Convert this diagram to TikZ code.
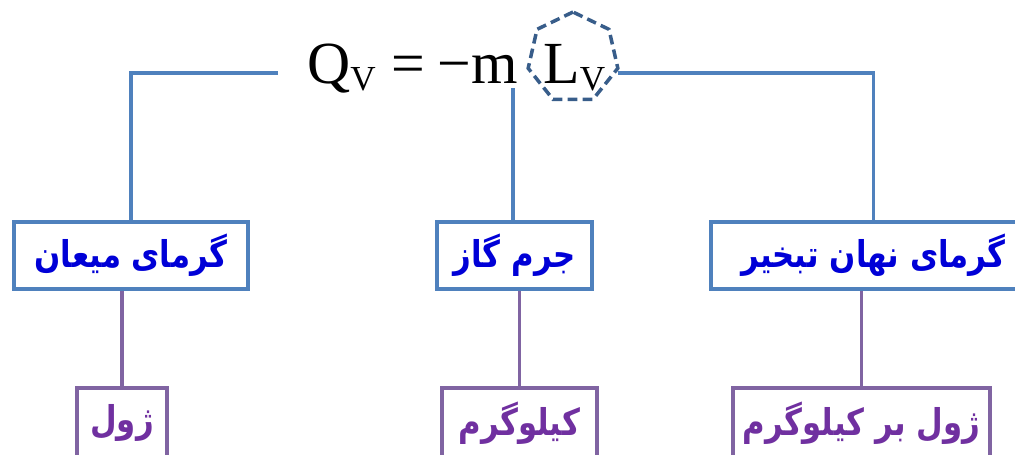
\documentclass[tikz,border=0pt]{standalone}
\usepackage{fontspec}
\usepackage{graphicx}
\setmainfont{Liberation Serif}
\newfontfamily\fafont[Script=Arabic]{DejaVu Sans}
\TeXXeTstate=1
\usetikzlibrary{shapes.geometric}
\definecolor{lineblue}{RGB}{79,129,189}
\definecolor{textblue}{RGB}{0,0,215}
\definecolor{linepurple}{RGB}{128,100,162}
\definecolor{textpurple}{RGB}{112,48,160}
\definecolor{ringblue}{RGB}{56,93,138}
\newcommand{\fa}[1]{\scalebox{1}[1.2]{\beginR #1\endR}}
\newcommand{\subv}{\raisebox{-4pt}{\fontsize{20}{20}\selectfont V}}

\begin{document}
\begin{tikzpicture}[x=0.02cm, y=-0.02cm,
    qbox/.style={rectangle, draw=lineblue, line width=2.2pt, fill=white,
                 minimum height=1.34cm, inner sep=0pt, text=textblue,
                 font=\fafont\bfseries\fontsize{17.5}{17.5}\selectfont},
    ubox/.style={rectangle, draw=linepurple, line width=2.2pt, fill=white,
                 minimum height=1.4cm, inner sep=0pt, text=textpurple,
                 font=\fafont\bfseries\fontsize{17.5}{17.5}\selectfont},
    link/.style={draw=lineblue, line width=2.2pt},
    ulink/.style={draw=linepurple, line width=2.2pt},
    dashring/.style={regular polygon, regular polygon sides=7, draw=ringblue,
                 line width=2pt, dash pattern=on 5.5pt off 3pt,
                 minimum size=1.84cm, inner sep=0pt, outer sep=0pt},
    eqtext/.style={inner sep=0pt, font=\fontsize{34}{34}\selectfont}
]
\useasboundingbox (0,0) rectangle (1015,454);

%% equation
\node[eqtext, anchor=base west] (eq) at (307,83) {Q\subv\hspace{9pt}=\hspace{7pt}−m};
\node[eqtext, anchor=base west] (Lv) at (543,83) {L\subv};
\node[dashring] (ring) at (573,58) {};
\coordinate (lstub) at (278,73);
\coordinate (mstub) at (513,88);

%% quantities
\node[qbox, minimum width=4.68cm] (heat)   at (131,255.5) {\fa{گرمای میعان}};
\node[qbox, minimum width=3.1cm]  (mass)   at (514.5,255.5) {\fa{جرم گاز}};
\node[qbox, minimum width=6.5cm]  (latent) at (873.5,255.5) {\fa{گرمای نهان تبخیر}};

%% units
\node[ubox, minimum width=1.8cm] (joule) at (122,423) {\fa{ژول}};
\node[ubox, minimum width=3.1cm] (kilo)  at (519.5,423) {\fa{کیلوگرم}};
\node[ubox, minimum width=5.14cm] (jpk)  at (861.5,423) {\fa{ژول بر کیلوگرم}};

\draw[link] (lstub) -| (heat.north);
\draw[link] (mstub) -- (mstub |- mass.north);
\draw[link] (ring.corner 6 |- lstub) -| (latent.north);

\draw[ulink] (joule.north |- heat.south) -- (joule.north);
\draw[ulink] (kilo.north |- mass.south) -- (kilo.north);
\draw[ulink] (jpk.north |- latent.south) -- (jpk.north);

\end{tikzpicture}
\end{document}
